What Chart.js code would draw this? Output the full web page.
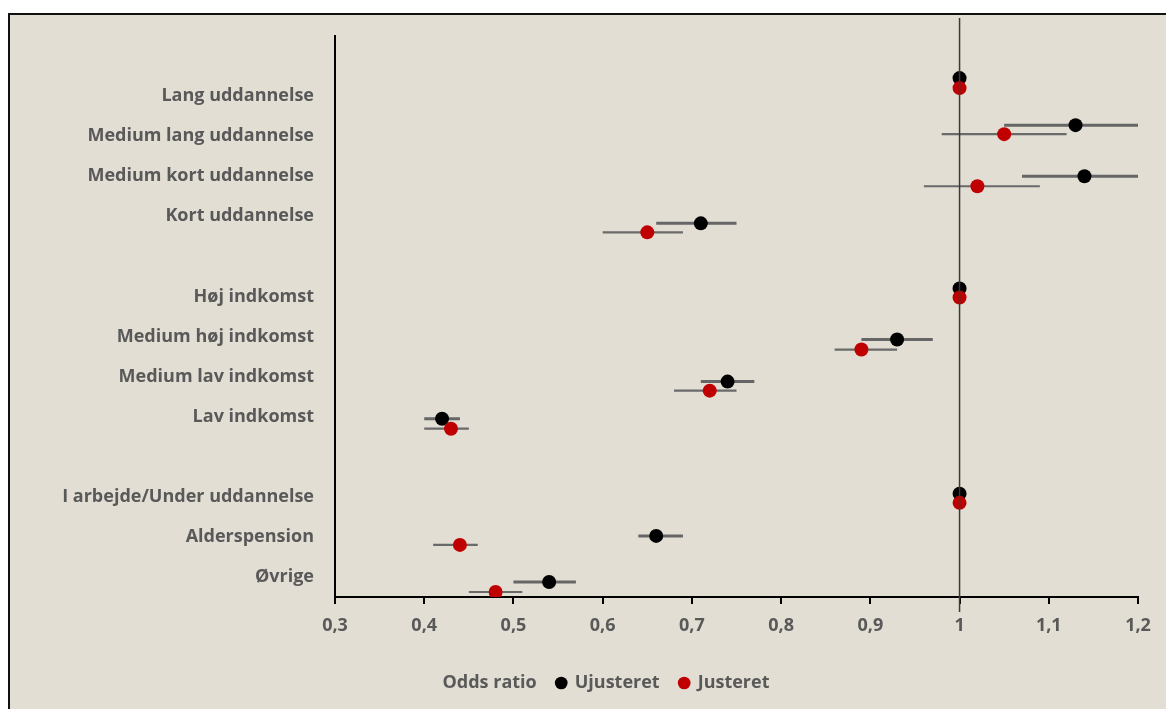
<!DOCTYPE html>
<html><head><meta charset="utf-8">
<script src="https://cdn.jsdelivr.net/npm/chart.js@4.4.1/dist/chart.umd.min.js"></script>
<style>
html,body{margin:0;padding:0;background:#fff;width:1166px;height:709px;overflow:hidden}
#frame{position:absolute;left:8px;top:13px;width:1170px;height:710px;background:#e2ded4;border-left:2px solid #111;border-top:2px solid #111}
#wrap{position:absolute;left:0;top:0;width:1166px;height:709px}
</style></head><body>
<div id="frame"></div>
<div id="wrap"><canvas id="c" width="1166" height="709"></canvas></div>
<script>
const categories = ["", "Lang uddannelse", "Medium lang uddannelse", "Medium kort uddannelse", "Kort uddannelse", "",
  "Høj indkomst", "Medium høj indkomst", "Medium lav indkomst", "Lav indkomst", "",
  "I arbejde/Under uddannelse", "Alderspension", "Øvrige"];
const xTicks = [0.3, 0.4, 0.5, 0.6, 0.7, 0.8, 0.9, 1.0, 1.1, 1.2];
const seriesNames = ["Odds ratio", "Ujusteret", "Justeret"];

const unadj    = [1.00, 1.13, 1.14, 0.71, 1.00, 0.93, 0.74, 0.42, 1.00, 0.66, 0.54];
const unadjLo  = [1.00, 1.05, 1.07, 0.66, 1.00, 0.89, 0.71, 0.40, 1.00, 0.64, 0.50];
const unadjHi  = [1.00, 1.20, 1.20, 0.75, 1.00, 0.97, 0.77, 0.44, 1.00, 0.69, 0.57];
const unadjPos = [51.8, 47.1, 42.0, 37.3, 30.8, 25.7, 21.5, 17.8, 10.3, 6.1, 1.5];

const adj    = [1.00, 1.05, 1.02, 0.65, 1.00, 0.89, 0.72, 0.43, 1.00, 0.44, 0.48];
const adjLo  = [1.00, 0.98, 0.96, 0.60, 1.00, 0.86, 0.68, 0.40, 1.00, 0.41, 0.45];
const adjHi  = [1.00, 1.12, 1.09, 0.69, 1.00, 0.93, 0.75, 0.45, 1.00, 0.46, 0.51];
const adjPos = [50.8, 46.2, 41.0, 36.4, 29.9, 24.7, 20.6, 16.8, 9.4, 5.2, 0.5];

const refLineX = [1.0, 1.0];
const refLineY = [57.8, -1.5];

const pts = (xs, ys) => xs.map((v, i) => ({x: v, y: ys[i]}));
const bars = (lo, hi, ys) => {
  const d = [];
  lo.forEach((v, i) => { d.push({x: v, y: ys[i]}, {x: hi[i], y: ys[i]}, {x: null, y: null}); });
  return d;
};

Chart.defaults.font.family = '"Open Sans", sans-serif';
Chart.defaults.font.weight = 'bold';
Chart.defaults.font.size = 18;
Chart.defaults.color = '#595959';

const LEFT_PAD = 56;

new Chart(document.getElementById('c'), {
  type: 'scatter',
  data: {
    datasets: [
      {label: seriesNames[0], data: pts(refLineX, refLineY), showLine: true, borderColor: '#3a3a3a', borderWidth: 1.5,
       pointRadius: 0, backgroundColor: 'transparent', clip: false, order: -1, yAxisID: 'y'},
      {label: seriesNames[1], data: pts(unadj, unadjPos), backgroundColor: '#000000', borderColor: '#000000', borderWidth: 0,
       pointRadius: 7, pointHoverRadius: 7, order: 1, yAxisID: 'y'},
      {label: seriesNames[2], data: pts(adj, adjPos), backgroundColor: '#c00000', borderColor: '#c00000', borderWidth: 0,
       pointRadius: 7, pointHoverRadius: 7, order: 0, yAxisID: 'y'},
      {label: 'ci1', data: bars(unadjLo, unadjHi, unadjPos), showLine: true, spanGaps: false, borderColor: '#666666', borderWidth: 3,
       pointRadius: 0, order: 10, yAxisID: 'y'},
      {label: 'ci2', data: bars(adjLo, adjHi, adjPos), showLine: true, spanGaps: false, borderColor: '#6a6a6a', borderWidth: 2.2,
       pointRadius: 0, order: 10, yAxisID: 'y'}
    ]
  },
  options: {
    responsive: false,
    animation: false,
    devicePixelRatio: 1,
    layout: {padding: {left: LEFT_PAD, right: 28, top: 36, bottom: 7}},
    scales: {
      x: {
        type: 'linear', min: 0.3, max: 1.2,
        afterBuildTicks: (s) => { s.ticks = xTicks.map(v => ({value: v})); },
        ticks: {padding: 11, color: '#595959', font: {size: 18, weight: 'bold'},
          callback: (v) => String(Math.round(v * 10) / 10).replace('.', ',')},
        grid: {display: true, drawOnChartArea: false, drawTicks: true, tickLength: 7, color: '#000', lineWidth: 2},
        border: {display: true, color: '#000', width: 2},
        afterFit: (s) => { s.height = 57; }
      },
      y: {type: 'linear', min: 0, max: 56, display: false},
      yc: {
        type: 'category', position: 'left', labels: categories, offset: true,
        grid: {display: false, drawTicks: false},
        border: {display: true, color: '#000', width: 2},
        ticks: {autoSkip: false, padding: 21, color: '#595959', font: {size: 18, weight: 'bold'}},
        afterFit: (s) => { s.width = 335 - LEFT_PAD; }
      }
    },
    plugins: {
      tooltip: {enabled: false},
      legend: {
        position: 'bottom',
        labels: {
          usePointStyle: true, boxWidth: 9, boxHeight: 9, padding: 20,
          color: '#595959', font: {size: 18, weight: 'bold'},
          filter: (it) => it.datasetIndex < 3,
          sort: (a, b) => a.datasetIndex - b.datasetIndex,
          generateLabels: (chart) => {
            const items = Chart.defaults.plugins.legend.labels.generateLabels(chart);
            items.forEach(it => {
              if (it.datasetIndex === 0) { it.fillStyle = 'rgba(0,0,0,0)'; it.strokeStyle = 'rgba(0,0,0,0)'; it.lineWidth = 0; }
            });
            return items;
          }
        }
      }
    }
  }
});
</script>
</body></html>
